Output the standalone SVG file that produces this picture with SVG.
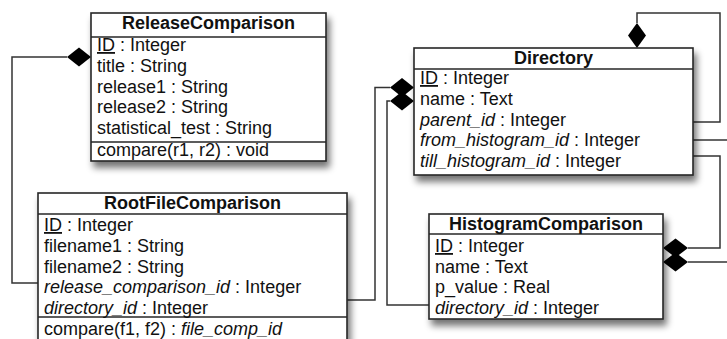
<svg xmlns="http://www.w3.org/2000/svg" width="727" height="339" viewBox="0 0 727 339">
<style>
  .box { fill: #ffffff; stroke: #262626; stroke-width: 1.6; }
  .sep { stroke: #262626; stroke-width: 1.4; }
  .conn { fill: none; stroke: #333333; stroke-width: 1.5; }
  .dia { fill: #000000; stroke: none; }
  text { font-family: "Liberation Sans", Arial, sans-serif; font-size: 18px; fill: #111111; }
  .hd { font-weight: bold; text-anchor: middle; }
  .it { font-style: italic; }
  .ul { text-decoration: underline; }
</style>
<defs>
  <filter id="shadow" x="-10%" y="-10%" width="130%" height="140%">
    <feGaussianBlur in="SourceAlpha" stdDeviation="3.5"/>
    <feOffset dx="3" dy="6" result="b"/>
    <feComponentTransfer><feFuncA type="linear" slope="0.55"/></feComponentTransfer>
    <feMerge><feMergeNode/><feMergeNode in="SourceGraphic"/></feMerge>
  </filter>
</defs>
<rect x="0" y="0" width="727" height="339" fill="#ffffff"/>

<g id="connectors">
  <polyline class="conn" points="67,57 12,57 12,283 38,283"/>
  <polygon class="dia" points="91,57 79,47.5 67,57 79,66.5"/>
  <polyline class="conn" points="347,300 375,300 375,87.5 390,87.5"/>
  <polygon class="dia" points="414,87.5 402,78 390,87.5 402,97"/>
  <polyline class="conn" points="429,305 387,305 387,101 390,101"/>
  <polygon class="dia" points="414,101 402,91.5 390,101 402,110.5"/>
  <polyline class="conn" points="693,122 720,122 720,13 637,13 637,23"/>
  <polygon class="dia" points="637,48 646,35.5 637,23 628,35.5"/>
  <polyline class="conn" points="693,140 727,140"/>
  <polyline class="conn" points="693,156 720,156 720,248 688,248"/>
  <polygon class="dia" points="663,248 675.5,238.5 688,248 675.5,257.5"/>
  <polyline class="conn" points="688,262 727,262"/>
  <polygon class="dia" points="663,262 675.5,252.5 688,262 675.5,271.5"/>
</g>

<g id="ReleaseComparison">
  <rect class="box" x="91" y="13" width="235" height="148" filter="url(#shadow)"/>
  <line class="sep" x1="91" y1="37" x2="326" y2="37"/>
  <line class="sep" x1="91" y1="142" x2="326" y2="142"/>
  <text class="hd" x="208.5" y="29">ReleaseComparison</text>
  <text x="97" y="51"><tspan class="ul">ID</tspan> : Integer</text>
  <text x="97" y="71.8">title : String</text>
  <text x="97" y="92.6">release1 : String</text>
  <text x="97" y="113.4">release2 : String</text>
  <text x="97" y="134.2">statistical_test : String</text>
  <text x="97" y="155.5">compare(r1, r2) : void</text>
</g>

<g id="RootFileComparison">
  <rect class="box" x="38" y="193" width="309" height="160" filter="url(#shadow)"/>
  <line class="sep" x1="38" y1="214" x2="347" y2="214"/>
  <line class="sep" x1="38" y1="317" x2="347" y2="317"/>
  <text class="hd" x="192.5" y="209">RootFileComparison</text>
  <text x="44" y="231"><tspan class="ul">ID</tspan> : Integer</text>
  <text x="44" y="251.8">filename1 : String</text>
  <text x="44" y="272.6">filename2 : String</text>
  <text x="44" y="293.4"><tspan class="it">release_comparison_id</tspan> : Integer</text>
  <text x="44" y="314"><tspan class="it">directory_id</tspan> : Integer</text>
  <text x="44" y="335"><tspan>compare(f1, f2) : </tspan><tspan class="it">file_comp_id</tspan></text>
</g>

<g id="Directory">
  <rect class="box" x="414" y="48" width="279" height="127" filter="url(#shadow)"/>
  <line class="sep" x1="414" y1="69" x2="693" y2="69"/>
  <text class="hd" x="553.5" y="64">Directory</text>
  <text x="420" y="84"><tspan class="ul">ID</tspan> : Integer</text>
  <text x="420" y="104.8">name : Text</text>
  <text x="420" y="125.6"><tspan class="it">parent_id</tspan> : Integer</text>
  <text x="420" y="146.4"><tspan class="it">from_histogram_id</tspan> : Integer</text>
  <text x="420" y="167.2"><tspan class="it">till_histogram_id</tspan> : Integer</text>
</g>

<g id="HistogramComparison">
  <rect class="box" x="429" y="214" width="234" height="105" filter="url(#shadow)"/>
  <line class="sep" x1="429" y1="234" x2="663" y2="234"/>
  <text class="hd" x="546" y="230">HistogramComparison</text>
  <text x="435" y="252"><tspan class="ul">ID</tspan> : Integer</text>
  <text x="435" y="272.6">name : Text</text>
  <text x="435" y="293.4">p_value : Real</text>
  <text x="435" y="314"><tspan class="it">directory_id</tspan> : Integer</text>
</g>
</svg>
